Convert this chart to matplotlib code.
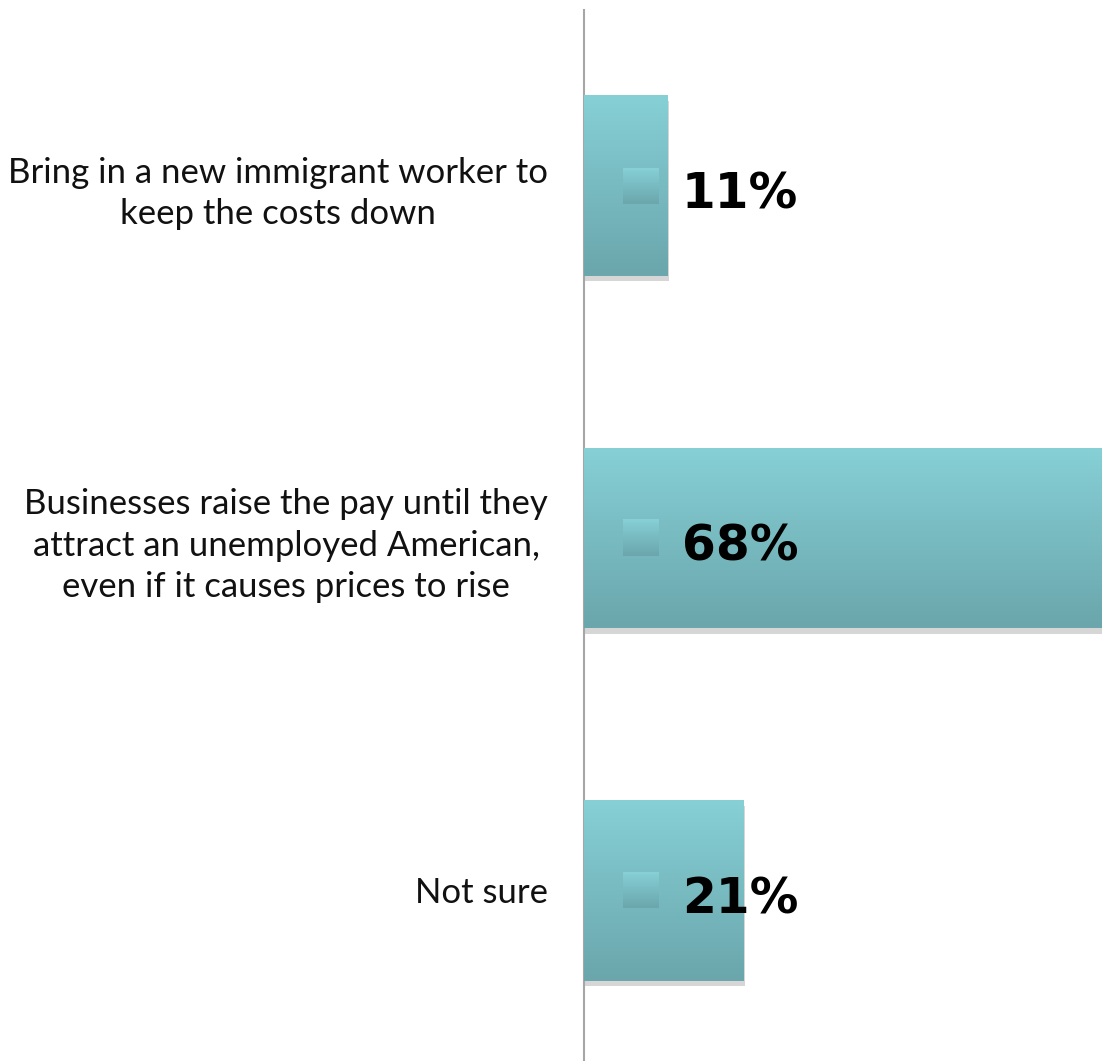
import numpy as np
import matplotlib
matplotlib.use('Agg')
import matplotlib.pyplot as plt
import matplotlib.patheffects as pe

# survey answers, top to bottom
categories = ['Bring in a new immigrant worker to\nkeep the costs down',
              'Businesses raise the pay until they\nattract an unemployed American,\neven if it causes prices to rise',
              'Not sure']
values = [11, 68, 21]
value_labels = ['11%', '68%', '21%']

top_col = np.array([0x86, 0xD0, 0xD6]) / 255.0
bot_col = np.array([0x6A, 0xA6, 0xAC]) / 255.0

fig = plt.figure(figsize=(11.02, 10.61), dpi=100)
ax = fig.add_axes([584 / 1102, 0.0, 1 - 584 / 1102, 1 - 10 / 1061])

ypos = np.arange(len(values))
bars = ax.barh(ypos, values, height=0.513, color=bot_col, zorder=2,
               path_effects=[pe.SimplePatchShadow(offset=(1, -4), shadow_rgbFace='#8c8c8c', alpha=0.35),
                             pe.Normal()])

# vertical gradient image, darker at the bottom
grad = np.linspace(0, 1, 256)[:, None, None]
grad_img = top_col[None, None, :] * (1 - grad) + bot_col[None, None, :] * grad

ylim = (2.484, -0.498)
ax.set_xlim(0, 68)
ax.set_ylim(*ylim)

px_per_x = 518 / 68.0
px_per_y = 1051 / (ylim[0] - ylim[1])
for b, lab in zip(bars, value_labels):
    x0, y0 = b.get_x(), b.get_y()
    w, h = b.get_width(), b.get_height()
    im = ax.imshow(grad_img, extent=(x0, x0 + w, y0 + h, y0), aspect='auto', zorder=3,
                   interpolation='bilinear')
    im.set_clip_path(b)
    # small legend-key square inside the bar
    yc = y0 + h / 2
    kx0 = 39 / px_per_x
    kw = 36 / px_per_x
    kh = 36 / px_per_y
    ax.imshow(grad_img, extent=(kx0, kx0 + kw, yc + kh / 2, yc - kh / 2), aspect='auto',
              zorder=4, interpolation='bilinear')
    ax.annotate(lab, xy=(0, yc), xytext=(98, -9), textcoords='offset pixels',
                ha='left', va='center', fontsize=35, fontweight='bold',
                family='DejaVu Sans', color='black', zorder=5)

ax.set_xlim(0, 68)
ax.set_ylim(*ylim)

ax.set_yticks(ypos)
ax.set_yticklabels(categories, family='Lato', fontsize=25, ha='right',
                   multialignment='center', linespacing=1.36, color='#111111')
ax.tick_params(axis='y', length=0, pad=36 * 0.72)
ax.set_xticks([])
for s in ['top', 'right', 'bottom']:
    ax.spines[s].set_visible(False)
ax.spines['left'].set_color('#a6a6a6')
ax.spines['left'].set_linewidth(1.5)
ax.patch.set_alpha(0)

fig.savefig('out.png', dpi=100)
